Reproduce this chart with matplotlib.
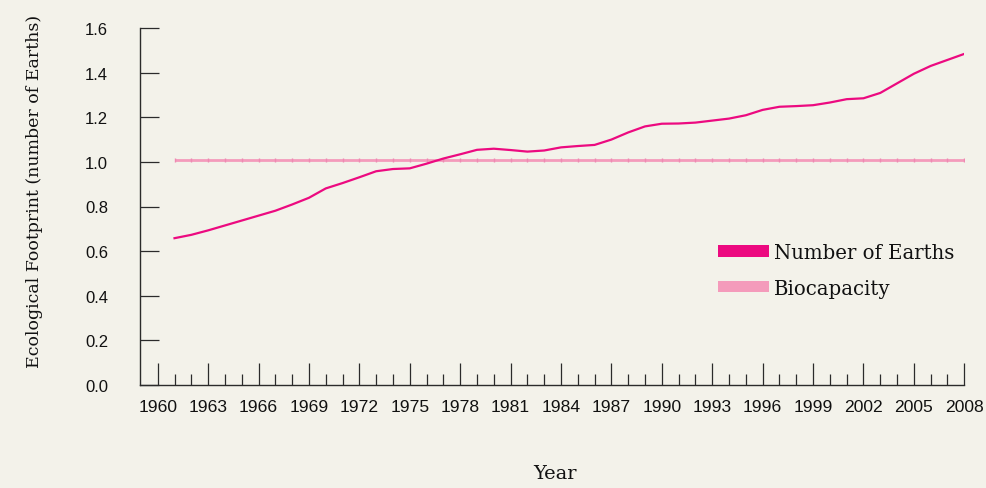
import matplotlib
matplotlib.use("Agg")
import matplotlib.pyplot as plt
from matplotlib.patches import Patch
from matplotlib.ticker import FixedLocator
import numpy as np

years = list(range(1961, 2009))
earths = [0.658, 0.673, 0.693, 0.715, 0.737, 0.759, 0.781, 0.809, 0.839, 0.881,
          0.905, 0.931, 0.958, 0.968, 0.971, 0.992, 1.015, 1.034, 1.054, 1.059,
          1.053, 1.046, 1.051, 1.065, 1.071, 1.076, 1.100, 1.132, 1.159, 1.171,
          1.172, 1.176, 1.185, 1.194, 1.209, 1.233, 1.247, 1.250, 1.254, 1.266,
          1.281, 1.285, 1.309, 1.352, 1.395, 1.430, 1.457, 1.484]
biocapacity = [1.008] * len(years)
yticks = [0.0, 0.2, 0.4, 0.6, 0.8, 1.0, 1.2, 1.4, 1.6]
xticks_major = list(range(1960, 2009, 3))
xticks_minor = [y for y in range(1960, 2009) if y not in xticks_major]
series_labels = ["Number of Earths", "Biocapacity"]

BG = "#F3F2EA"
C_EARTH = "#EC0A80"
C_BIO = "#F49BBB"
INK = "#2B2B2B"

W, H = 987, 489
fig = plt.figure(figsize=(W / 100, H / 100), dpi=100, facecolor=BG)
ax = fig.add_axes([140 / W, 1 - 386 / H, (964.3 - 140) / W, (386 - 29) / H])
ax.set_facecolor(BG)

ax.plot(years, biocapacity, color=C_BIO, lw=2.0, marker="|", ms=3.5, mew=1.0,
        mec="#EE8AB2", solid_capstyle="butt", zorder=2)
ax.plot(years, earths, color=C_EARTH, lw=1.6, zorder=3)

ax.set_xlim(1960 - 17.7 / 16.8, 2008)
ax.set_ylim(0, 1.6)

for s in ["top", "right"]:
    ax.spines[s].set_visible(False)
for s in ["left", "bottom"]:
    ax.spines[s].set_color(INK)
    ax.spines[s].set_linewidth(1.0)

ax.set_yticks(yticks)
ax.set_yticklabels([f"{v:.1f}" for v in yticks])
ax.set_xticks(xticks_major)
ax.set_xticklabels([str(v) for v in xticks_major])
ax.xaxis.set_minor_locator(FixedLocator(xticks_minor))

ax.tick_params(axis="y", direction="in", length=14, width=0.9, color=INK,
               pad=23, labelsize=12, labelcolor="#111111")
ax.tick_params(axis="x", which="major", direction="in", length=16, width=0.9,
               color=INK, pad=10, labelsize=12.6, labelcolor="#111111")
ax.tick_params(axis="x", which="minor", direction="in", length=8, width=0.9,
               color=INK)
for lab in ax.get_xticklabels() + ax.get_yticklabels():
    lab.set_fontfamily("Liberation Sans")

serif = "DejaVu Serif"
fig.text(35 / W, 1 - 191 / H, "Ecological Footprint (number of Earths)",
         rotation=90, ha="center", va="center", family=serif, fontsize=12.5,
         color="#111111")
fig.text(555 / W, 1 - 474 / H, "Year", ha="center", va="center", family=serif,
         fontsize=14, color="#111111")

handles = [Patch(facecolor=C_EARTH, edgecolor="none", label=series_labels[0]),
           Patch(facecolor=C_BIO, edgecolor="none", label=series_labels[1])]
leg = ax.legend(handles=handles, loc="upper left",
                bbox_to_anchor=(718 / W, 1 - 244 / H),
                bbox_transform=fig.transFigure, frameon=False, borderpad=0,
                borderaxespad=0, handlelength=2.6, handleheight=0.5,
                handletextpad=0.22, labelspacing=0.85,
                prop={"family": serif, "size": 14.2})
for t in leg.get_texts():
    t.set_color("#111111")

fig.savefig("out.png", dpi=100, facecolor=BG)
